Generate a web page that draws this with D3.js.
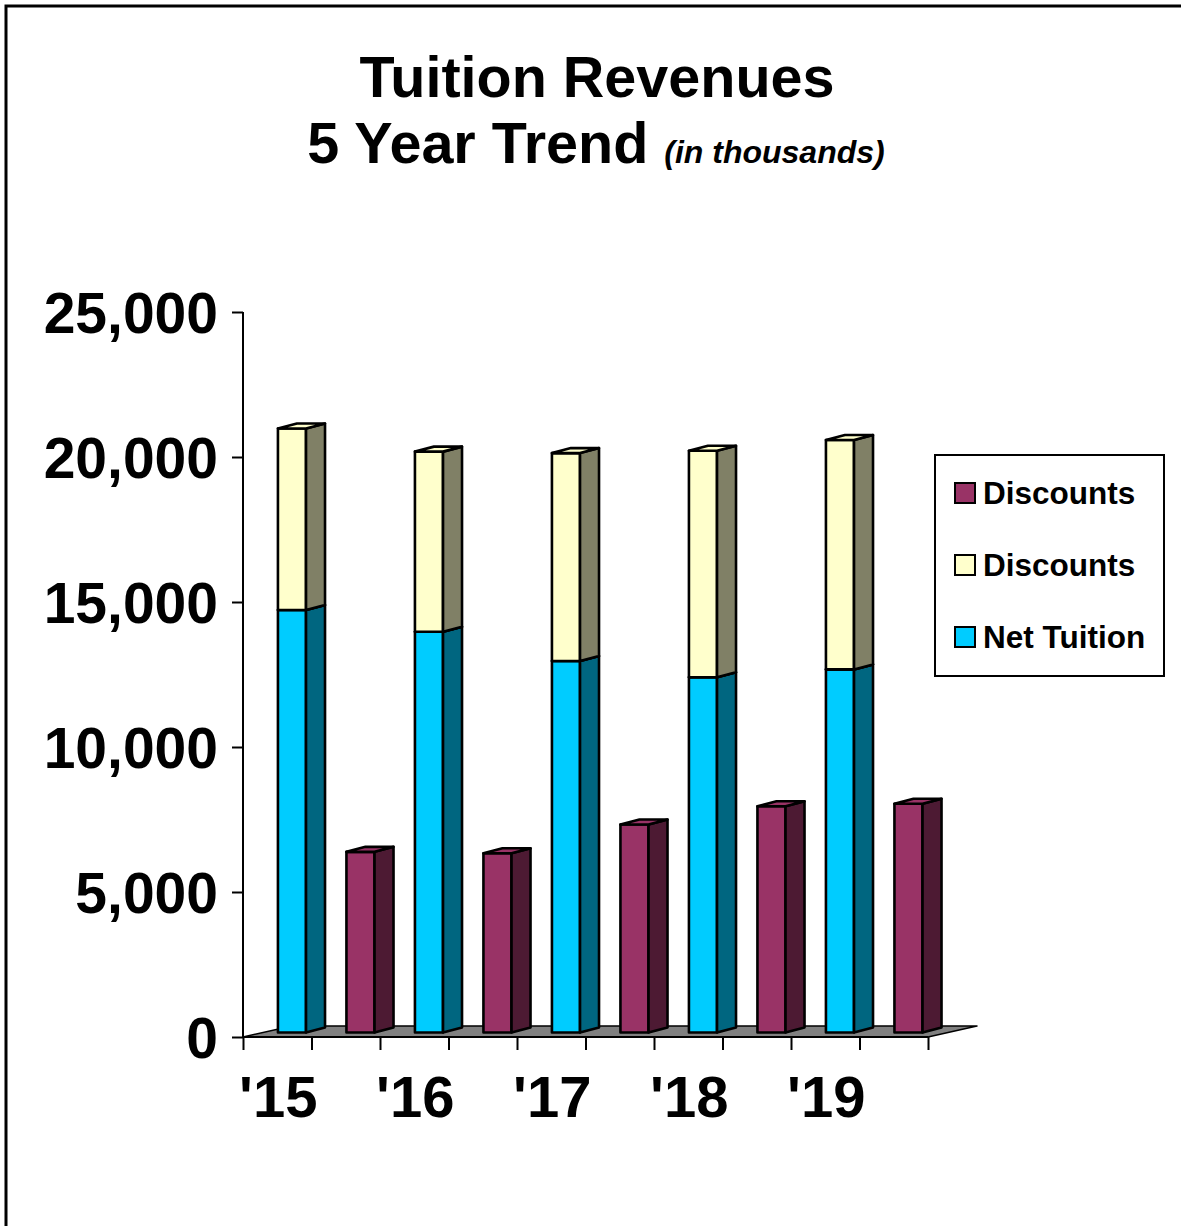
<!DOCTYPE html>
<html>
<head>
<meta charset="utf-8">
<script src="https://cdn.jsdelivr.net/npm/d3@7"></script>
<style>
  html, body { margin: 0; padding: 0; background: #fff; }
  svg { display: block; font-family: "Liberation Sans", Arial, sans-serif; }
</style>
</head>
<body>
<svg id="chart" width="1181" height="1226"></svg>
<script>
// Fiscal years shown on the category axis
const years = ["'15", "'16", "'17", "'18", "'19"];
// Stacked column: net tuition at the bottom, discounts on top (in thousands)
const netTuition = [14570, 13820, 12810, 12250, 12520];
const discountsStacked = [6260, 6210, 7170, 7810, 7910];
// Stand-alone discount column beside each year (in thousands)
const discounts = [6230, 6180, 7170, 7800, 7890];
// Value axis ticks
const yTicks = [0, 5000, 10000, 15000, 20000, 25000];
// Legend entries, top to bottom
const legendLabels = ["Discounts", "Discounts", "Net Tuition"];

const colors = {
  net:   { front: "#00CCFF", side: "#006680", top: "#00CCFF" },
  disc:  { front: "#FFFFCC", side: "#808066", top: "#FFFFCC" },
  purp:  { front: "#993366", side: "#4D1A33", top: "#993366" }
};
const legendColors = [colors.purp.front, colors.disc.front, colors.net.front];

const svg = d3.select("#chart");

// Outer frame
svg.append("rect")
  .attr("x", 6).attr("y", 6).attr("width", 1250).attr("height", 1300)
  .attr("fill", "none").attr("stroke", "#000").attr("stroke-width", 3);

// Title
const title = svg.append("g").attr("font-weight", "bold").attr("text-anchor", "middle");
title.append("text").attr("x", 597).attr("y", 97).attr("font-size", 57.5).text("Tuition Revenues");
const t2 = title.append("text").attr("x", 596).attr("y", 163).attr("font-size", 57.5);
t2.append("tspan").text("5 Year Trend ");
t2.append("tspan").attr("font-size", 32).attr("font-style", "italic").text("(in thousands)");

// Scales
const slots = d3.range(years.length * 2);
const x = d3.scaleBand().domain(slots).range([243, 928]).padding(0);
const xTickScale = d3.scaleLinear().domain([0, slots.length]).range([243, 928]);
const y = d3.scaleLinear().domain([0, 25000]).range([1037, 312]);

// Oblique 3-D projection settings
const bw = x.bandwidth();
const frontOffset = bw * 0.51;
const frontWidth = bw * 0.41;
const depth = { dx: 19, dy: -5 };
const floorDepth = { dx: 49, dy: -11 };
const baseY = y(0) - 4.5;

// Floor
const [fx0, fx1] = x.range();
svg.append("path")
  .attr("d", `M${fx0},${y(0)} L${fx1},${y(0)} L${fx1 + floorDepth.dx},${y(0) + floorDepth.dy} L${fx0 + floorDepth.dx},${y(0) + floorDepth.dy} Z`)
  .attr("fill", "#808080").attr("stroke", "#000").attr("stroke-width", 1.5)
  .attr("stroke-linejoin", "round");

// Draw one 3-D box segment between two values
function box(g, slot, v0, v1, c) {
  const x0 = x(slot) + frontOffset, x1 = x0 + frontWidth;
  const yb = baseY - (y(0) - y(v0));
  const yt = baseY - (y(0) - y(v1));
  const { dx, dy } = depth;
  const seg = g.append("g").attr("stroke", "#000").attr("stroke-width", 2.6).attr("stroke-linejoin", "round");
  seg.append("rect").attr("x", x0).attr("y", yt).attr("width", frontWidth).attr("height", yb - yt)
    .attr("fill", c.front);
  seg.append("path")
    .attr("d", `M${x1},${yb} L${x1 + dx},${yb + dy} L${x1 + dx},${yt + dy} L${x1},${yt} Z`)
    .attr("fill", c.side);
  seg.append("path")
    .attr("d", `M${x0},${yt} L${x1},${yt} L${x1 + dx},${yt + dy} L${x0 + dx},${yt + dy} Z`)
    .attr("fill", c.top);
}

const bars = svg.append("g");
years.forEach((yr, i) => {
  const s = i * 2;
  box(bars, s, 0, netTuition[i], colors.net);
  box(bars, s, netTuition[i], netTuition[i] + discountsStacked[i], colors.disc);
  box(bars, s + 1, 0, discounts[i], colors.purp);
});

// Value axis
const yAxis = svg.append("g")
  .attr("transform", `translate(${fx0},0)`)
  .call(d3.axisLeft(y).tickValues(yTicks).tickSize(11).tickPadding(14).tickFormat(d3.format(",")));
yAxis.select(".domain").attr("stroke", "#000").attr("stroke-width", 2).attr("d", `M0,${y(25000)}V${y(0)}`);
yAxis.selectAll(".tick line").attr("stroke", "#000").attr("stroke-width", 2);
yAxis.selectAll(".tick text")
  .attr("font-family", "Liberation Sans, Arial, sans-serif")
  .attr("font-size", 57).attr("font-weight", "bold").attr("fill", "#000").attr("dy", "0.36em");

// Category axis: ticks at slot boundaries, labels under each year's stacked column
const xAxis = svg.append("g")
  .attr("transform", `translate(0,${y(0)})`)
  .call(d3.axisBottom(xTickScale).tickValues(d3.range(slots.length + 1)).tickSize(13).tickFormat(""));
xAxis.select(".domain").attr("stroke", "#000").attr("stroke-width", 2).attr("d", `M${fx0},0H${fx1}`);
xAxis.selectAll(".tick line").attr("stroke", "#000").attr("stroke-width", 2);

svg.append("g").selectAll("text").data(years).join("text")
  .attr("x", (d, i) => x(i * 2) + bw / 2 + 1)
  .attr("y", 1117)
  .attr("text-anchor", "middle")
  .attr("font-size", 58).attr("font-weight", "bold")
  .text(d => d);

// Legend
const legend = svg.append("g");
legend.append("rect").attr("x", 935).attr("y", 455).attr("width", 229).attr("height", 221)
  .attr("fill", "#fff").attr("stroke", "#000").attr("stroke-width", 2);
const items = legend.selectAll("g.item").data(legendLabels).join("g")
  .attr("class", "item")
  .attr("transform", (d, i) => `translate(955,${493 + i * 72})`);
items.append("rect").attr("x", 0).attr("y", -10).attr("width", 20).attr("height", 20)
  .attr("fill", (d, i) => legendColors[i]).attr("stroke", "#000").attr("stroke-width", 2);
items.append("text").attr("x", 28).attr("y", 0).attr("dy", "0.35em")
  .attr("font-size", 31.5).attr("font-weight", "bold").text(d => d);
</script>
</body>
</html>
